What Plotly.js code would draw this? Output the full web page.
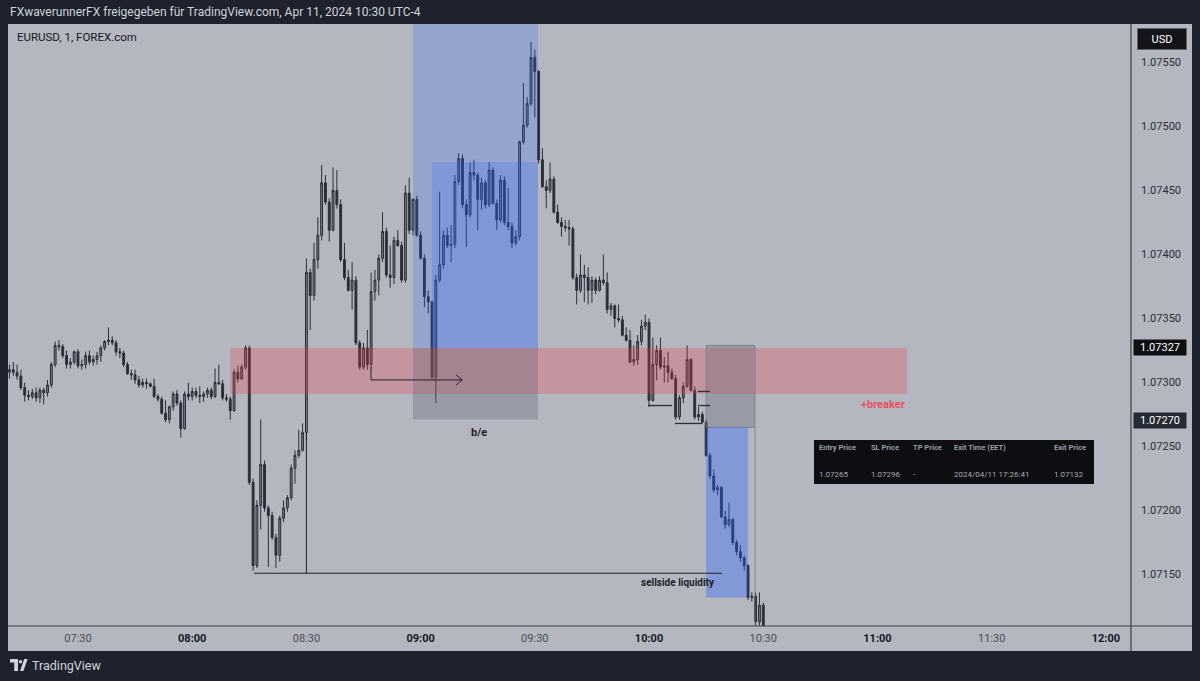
<!DOCTYPE html>
<html><head><meta charset="utf-8">
<script src="https://cdn.plot.ly/plotly-3.0.1.min.js"></script>
<style>html,body{margin:0;padding:0;background:#1e222d;overflow:hidden}#chart{width:1200px;height:681px}</style>
</head><body><div id="chart"></div>
<script>
// ---------- DATA ----------
const times = [
"07:12","07:13","07:14","07:15","07:16","07:17","07:18","07:19","07:20","07:21","07:22","07:23","07:24","07:25","07:26","07:27","07:28","07:29",
"07:30","07:31","07:32","07:33","07:34","07:35","07:36","07:37","07:38","07:39","07:40","07:41","07:42","07:43","07:44","07:45","07:46","07:47","07:48","07:49","07:50","07:51","07:52","07:53","07:54","07:55","07:56","07:57","07:58","07:59",
"08:00","08:01","08:02","08:03","08:04","08:05","08:06","08:07","08:08","08:09","08:10","08:11","08:12","08:13","08:14","08:15","08:16","08:17","08:18","08:19","08:20","08:21","08:22","08:23","08:24","08:25","08:26","08:27","08:28","08:29",
"08:30","08:31","08:32","08:33","08:34","08:35","08:36","08:37","08:38","08:39","08:40","08:41","08:42","08:43","08:44","08:45","08:46","08:47","08:48","08:49","08:50","08:51","08:52","08:53","08:54","08:55","08:56","08:57","08:58","08:59",
"09:00","09:01","09:02","09:03","09:04","09:05","09:06","09:07","09:08","09:09","09:10","09:11","09:12","09:13","09:14","09:15","09:16","09:17","09:18","09:19","09:20","09:21","09:22","09:23","09:24","09:25","09:26","09:27","09:28","09:29",
"09:30","09:31","09:32","09:33","09:34","09:35","09:36","09:37","09:38","09:39","09:40","09:41","09:42","09:43","09:44","09:45","09:46","09:47","09:48","09:49","09:50","09:51","09:52","09:53","09:54","09:55","09:56","09:57","09:58","09:59",
"10:00","10:01","10:02","10:03","10:04","10:05","10:06","10:07","10:08","10:09","10:10","10:11","10:12","10:13","10:14","10:15","10:16","10:17","10:18","10:19","10:20","10:21","10:22","10:23","10:24","10:25","10:26","10:27","10:28","10:29","10:30"
];
const open = [
1.07308,1.07310,1.07308,1.07305,1.07296,1.07290,1.07289,1.07292,1.07288,1.07294,
1.07292,1.07298,1.07314,1.07329,1.07328,1.07321,1.07314,1.07316,1.07324,1.07313,
1.07314,1.07321,1.07316,1.07318,1.07321,1.07327,1.07332,1.07333,1.07331,1.07324,
1.07323,1.07314,1.07307,1.07306,1.07302,1.07298,1.07300,1.07299,1.07297,1.07289,
1.07287,1.07276,1.07271,1.07281,1.07291,1.07284,1.07264,1.07291,1.07289,1.07293,
1.07290,1.07289,1.07291,1.07294,1.07289,1.07300,1.07299,1.07288,1.07287,1.07278,
1.07308,1.07303,1.07312,1.07327,1.07222,1.07157,1.07204,1.07236,1.07202,1.07196,
1.07179,1.07165,1.07194,1.07202,1.07210,1.07233,1.07243,1.07247,1.07261,1.07386,
1.07368,1.07396,1.07415,1.07456,1.07441,1.07419,1.07450,1.07439,1.07396,1.07382,
1.07372,1.07380,1.07331,1.07312,1.07327,1.07314,1.07371,1.07380,1.07397,1.07418,
1.07384,1.07382,1.07411,1.07407,1.07380,1.07448,1.07419,1.07443,1.07415,1.07397,
1.07367,1.07363,1.07304,1.07380,1.07392,1.07415,1.07407,1.07408,1.07457,1.07475,
1.07439,1.07431,1.07464,1.07462,1.07443,1.07456,1.07439,1.07466,1.07440,1.07427,
1.07458,1.07425,1.07422,1.07409,1.07414,1.07488,1.07501,1.07518,1.07554,1.07543,
1.07474,1.07453,1.07450,1.07459,1.07433,1.07425,1.07422,1.07421,1.07420,1.07382,
1.07372,1.07384,1.07382,1.07372,1.07380,1.07372,1.07380,1.07378,1.07357,1.07360,
1.07350,1.07349,1.07337,1.07333,1.07316,1.07318,1.07332,1.07344,1.07347,1.07286,
1.07314,1.07325,1.07312,1.07313,1.07308,1.07303,1.07273,1.07288,1.07297,1.07318,
1.07294,1.07273,1.07275,1.07269,1.07243,1.07227,1.07216,1.07218,1.07195,1.07189,
1.07193,1.07175,1.07168,1.07163,1.07157,1.07132,1.07133,1.07113,1.07126
];
const high = [
1.07314,1.07316,1.07314,1.07310,1.07300,1.07294,1.07295,1.07296,1.07296,1.07296,
1.07302,1.07316,1.07332,1.07333,1.07330,1.07325,1.07319,1.07325,1.07326,1.07318,
1.07324,1.07325,1.07321,1.07324,1.07329,1.07333,1.07343,1.07336,1.07333,1.07327,
1.07325,1.07316,1.07310,1.07310,1.07305,1.07303,1.07303,1.07300,1.07303,1.07291,
1.07289,1.07286,1.07282,1.07293,1.07294,1.07286,1.07293,1.07300,1.07296,1.07296,
1.07297,1.07293,1.07296,1.07296,1.07311,1.07314,1.07302,1.07291,1.07289,1.07310,
1.07313,1.07314,1.07329,1.07329,1.07225,1.07208,1.07271,1.07239,1.07204,1.07199,
1.07182,1.07196,1.07208,1.07212,1.07236,1.07247,1.07263,1.07268,1.07397,1.07389,
1.07409,1.07429,1.07470,1.07462,1.07444,1.07468,1.07466,1.07443,1.07409,1.07388,
1.07394,1.07383,1.07333,1.07331,1.07341,1.07386,1.07388,1.07400,1.07433,1.07421,
1.07407,1.07414,1.07419,1.07410,1.07454,1.07460,1.07444,1.07446,1.07418,1.07400,
1.07372,1.07364,1.07384,1.07449,1.07419,1.07421,1.07423,1.07462,1.07479,1.07478,
1.07443,1.07472,1.07474,1.07464,1.07460,1.07458,1.07472,1.07468,1.07443,1.07462,
1.07461,1.07452,1.07425,1.07419,1.07489,1.07534,1.07523,1.07566,1.07560,1.07544,
1.07483,1.07458,1.07472,1.07461,1.07439,1.07429,1.07427,1.07427,1.07422,1.07385,
1.07400,1.07392,1.07390,1.07383,1.07382,1.07383,1.07400,1.07386,1.07362,1.07361,
1.07361,1.07352,1.07343,1.07341,1.07329,1.07337,1.07349,1.07353,1.07350,1.07335,
1.07329,1.07335,1.07320,1.07324,1.07311,1.07306,1.07290,1.07300,1.07329,1.07319,
1.07297,1.07281,1.07277,1.07271,1.07245,1.07232,1.07220,1.07219,1.07200,1.07206,
1.07194,1.07177,1.07173,1.07165,1.07158,1.07136,1.07136,1.07136,1.07128
];
const low = [
1.07303,1.07305,1.07302,1.07294,1.07285,1.07286,1.07287,1.07285,1.07284,1.07283,
1.07289,1.07296,1.07312,1.07325,1.07319,1.07311,1.07311,1.07314,1.07311,1.07310,
1.07311,1.07314,1.07313,1.07314,1.07316,1.07325,1.07329,1.07329,1.07321,1.07319,
1.07312,1.07306,1.07302,1.07299,1.07296,1.07296,1.07295,1.07296,1.07288,1.07285,
1.07275,1.07269,1.07268,1.07278,1.07282,1.07257,1.07263,1.07286,1.07286,1.07288,
1.07284,1.07285,1.07288,1.07287,1.07288,1.07298,1.07286,1.07285,1.07271,1.07277,
1.07300,1.07302,1.07310,1.07220,1.07153,1.07155,1.07185,1.07199,1.07156,1.07177,
1.07155,1.07160,1.07191,1.07199,1.07208,1.07221,1.07241,1.07246,1.07255,1.07341,
1.07364,1.07389,1.07411,1.07439,1.07410,1.07418,1.07436,1.07394,1.07380,1.07371,
1.07357,1.07329,1.07310,1.07310,1.07310,1.07311,1.07364,1.07368,1.07394,1.07382,
1.07374,1.07377,1.07406,1.07378,1.07378,1.07416,1.07415,1.07414,1.07396,1.07359,
1.07354,1.07302,1.07284,1.07378,1.07389,1.07405,1.07394,1.07405,1.07454,1.07436,
1.07406,1.07429,1.07458,1.07419,1.07435,1.07436,1.07437,1.07439,1.07419,1.07425,
1.07423,1.07419,1.07405,1.07407,1.07411,1.07486,1.07499,1.07516,1.07507,1.07471,
1.07452,1.07436,1.07448,1.07432,1.07424,1.07414,1.07418,1.07407,1.07380,1.07361,
1.07370,1.07363,1.07361,1.07362,1.07369,1.07371,1.07376,1.07354,1.07352,1.07343,
1.07347,1.07336,1.07332,1.07315,1.07313,1.07314,1.07329,1.07341,1.07281,1.07285,
1.07302,1.07310,1.07300,1.07300,1.07302,1.07271,1.07271,1.07284,1.07296,1.07293,
1.07271,1.07270,1.07268,1.07242,1.07225,1.07214,1.07212,1.07194,1.07186,1.07187,
1.07173,1.07165,1.07160,1.07153,1.07130,1.07129,1.07110,1.07110,1.07107
];
const close = [
1.07310,1.07308,1.07305,1.07296,1.07290,1.07289,1.07292,1.07288,1.07294,1.07292,
1.07298,1.07314,1.07329,1.07328,1.07321,1.07314,1.07316,1.07324,1.07313,1.07314,
1.07321,1.07316,1.07318,1.07321,1.07327,1.07332,1.07333,1.07331,1.07324,1.07323,
1.07314,1.07307,1.07306,1.07302,1.07298,1.07300,1.07299,1.07297,1.07289,1.07287,
1.07276,1.07271,1.07281,1.07291,1.07284,1.07264,1.07291,1.07289,1.07293,1.07290,
1.07289,1.07291,1.07294,1.07289,1.07300,1.07299,1.07288,1.07287,1.07278,1.07308,
1.07303,1.07312,1.07327,1.07222,1.07157,1.07204,1.07236,1.07202,1.07196,1.07179,
1.07165,1.07194,1.07202,1.07210,1.07233,1.07243,1.07247,1.07261,1.07386,1.07368,
1.07396,1.07415,1.07456,1.07441,1.07419,1.07450,1.07439,1.07396,1.07382,1.07372,
1.07380,1.07331,1.07312,1.07327,1.07314,1.07371,1.07380,1.07397,1.07418,1.07384,
1.07382,1.07411,1.07407,1.07380,1.07448,1.07419,1.07443,1.07415,1.07397,1.07367,
1.07363,1.07304,1.07380,1.07392,1.07415,1.07407,1.07408,1.07457,1.07475,1.07439,
1.07431,1.07464,1.07462,1.07443,1.07456,1.07439,1.07466,1.07440,1.07427,1.07458,
1.07425,1.07422,1.07409,1.07414,1.07488,1.07501,1.07518,1.07554,1.07543,1.07474,
1.07453,1.07450,1.07459,1.07433,1.07425,1.07422,1.07421,1.07420,1.07382,1.07372,
1.07384,1.07382,1.07372,1.07380,1.07372,1.07380,1.07378,1.07357,1.07360,1.07350,
1.07349,1.07337,1.07333,1.07316,1.07318,1.07332,1.07344,1.07347,1.07286,1.07314,
1.07325,1.07312,1.07313,1.07308,1.07303,1.07273,1.07288,1.07297,1.07318,1.07294,
1.07273,1.07275,1.07269,1.07243,1.07227,1.07216,1.07218,1.07195,1.07189,1.07193,
1.07175,1.07168,1.07163,1.07157,1.07132,1.07133,1.07113,1.07126,1.07110
];
const xTickTimes = ["07:30","08:00","08:30","09:00","09:30","10:00","10:30","11:00","11:30","12:00"];
const xTickBold  = [false,true,false,true,false,true,false,true,false,true];
const yTickVals  = [1.0715,1.0720,1.0725,1.0730,1.0735,1.0740,1.0745,1.0750,1.0755];
const priceMarks = [1.07327,1.07270];
const tableHeaders = ["Entry Price","SL Price","TP Price","Exit Time (EET)","Exit Price"];
const tableValues  = ["1.07265","1.07296","-","2024/04/11 17:26:41","1.07132"];

// drawing levels (time, price)
const breaker   = {t0:"08:10:00", t1:"11:07:46", lo:1.07291, hi:1.07327};
const trade1    = {t0:"08:58:00", t2:"09:03:00", t1:"09:30:50", entry:1.07327, stop:1.07271, tgt1:1.07472, tgtTop:1.0762};
const trade2    = {t0:"10:15:00", t1:"10:26:00", t3:"10:27:50", entry:1.07265, stop:1.07329, exit:1.07132};
const arrowLine = {t0:"08:46:58", t1:"09:10:54", p:1.07302, pTop:1.07312};
const ssl       = {t0:"08:16:14", t1:"10:19:10", p:1.07151, tV:"08:30:00", pV:1.07261};
const rays = [
  {t0:"09:59:44", t1:"10:06:02", p:1.07282},
  {t0:"10:06:49", t1:"10:13:54", p:1.07268},
  {t0:"10:12:52", t1:"10:16:00", p:1.07293},
  {t0:"10:12:52", t1:"10:16:00", p:1.07282}
];
const labels = {
  be:{t:"09:15:20", p:1.07261, text:"b/e"},
  ssl:{t:"10:07:36", p:1.07144, text:"sellside liquidity"},
  brk:{t:"11:01:26", p:1.07283, text:"+breaker"}
};

// ---------- LAYOUT HELPERS ----------
const W=1200, H=681, ML=8, MR=69, MT=24, MB=55;
const PW=W-ML-MR, PH=H-MT-MB;
const px = p => (p-ML)/PW;
const py = p => (H-MB-p)/PH;
const DAY="2024-04-11 ";
const T = t => DAY + (t.length===5 ? t+":00" : t);
const FONT = "Roboto, 'Noto Sans', sans-serif";
const DARK = "#1e222d";
const GRAY = "#b4b7c0";

const trace = {
  type:"candlestick", x: times.map(T), open, high, low, close,
  increasing:{line:{color:"#2b2e38",width:1}, fillcolor:"#777a84"},
  decreasing:{line:{color:"#2b2e38",width:1}, fillcolor:"#2b2e38"},
  whiskerwidth:0, hoverinfo:"skip", showlegend:false
};

const lineC = "#1f222b";
const shapes = [
  {type:"rect",xref:"paper",yref:"paper",x0:0,x1:px(1192),y0:py(651),y1:1,fillcolor:GRAY,line:{width:0},layer:"below"},
  {type:"rect",xref:"x",yref:"y",x0:T(breaker.t0),x1:T(breaker.t1),y0:breaker.lo,y1:breaker.hi,fillcolor:"rgba(242,54,69,0.27)",line:{width:0},layer:"above"},
  {type:"rect",xref:"x",yref:"y",x0:T(trade1.t0),x1:T(trade1.t1),y0:trade1.entry,y1:trade1.tgtTop,fillcolor:"rgba(41,98,255,0.22)",line:{width:0},layer:"above"},
  {type:"rect",xref:"x",yref:"y",x0:T(trade1.t2),x1:T(trade1.t1),y0:trade1.entry,y1:trade1.tgt1,fillcolor:"rgba(41,98,255,0.2)",line:{width:0},layer:"above"},
  {type:"rect",xref:"x",yref:"y",x0:T(trade1.t0),x1:T(trade1.t1),y0:trade1.stop,y1:trade1.entry,fillcolor:"rgba(100,104,116,0.34)",line:{width:0},layer:"above"},
  {type:"rect",xref:"x",yref:"y",x0:T(trade2.t0),x1:T(trade2.t3),y0:trade2.entry,y1:trade2.stop,fillcolor:"rgba(100,104,116,0.34)",line:{color:"rgba(120,123,134,0.8)",width:1},layer:"above"},
  {type:"rect",xref:"x",yref:"y",x0:T(trade2.t0),x1:T(trade2.t1),y0:trade2.exit,y1:trade2.entry,fillcolor:"rgba(41,98,255,0.36)",line:{width:0},layer:"above"},
  {type:"line",xref:"x",yref:"y",x0:T(trade2.t3),x1:T(trade2.t3),y0:trade2.entry,y1:1.0708,line:{color:"rgba(120,123,134,0.8)",width:1},layer:"above"},
  {type:"line",xref:"x",yref:"y",x0:T(arrowLine.t0),x1:T(arrowLine.t0),y0:arrowLine.pTop,y1:arrowLine.p,line:{color:lineC,width:1},layer:"above"},
  {type:"line",xref:"x",yref:"y",x0:T(arrowLine.t0),x1:T(arrowLine.t1),y0:arrowLine.p,y1:arrowLine.p,line:{color:lineC,width:1},layer:"above"},
  {type:"path",xref:"x",yref:"y",xsizemode:"pixel",ysizemode:"pixel",xanchor:T(arrowLine.t1),yanchor:arrowLine.p,path:"M-6,5L0,0L-6,-5",line:{color:lineC,width:1},layer:"above"},
  {type:"line",xref:"x",yref:"y",x0:T(ssl.t0),x1:T(ssl.t1),y0:ssl.p,y1:ssl.p,line:{color:lineC,width:1},layer:"above"},
  {type:"line",xref:"x",yref:"y",x0:T(ssl.tV),x1:T(ssl.tV),y0:ssl.p,y1:ssl.pV,line:{color:lineC,width:1},layer:"above"},
  {type:"line",xref:"paper",yref:"paper",x0:1,x1:1,y0:py(651),y1:1,line:{color:"#3a3e48",width:1.2},layer:"above"},
  {type:"line",xref:"paper",yref:"paper",x0:0,x1:px(1192),y0:0,y1:0,line:{color:"#3a3e48",width:1.2},layer:"above"},
  {type:"rect",xref:"paper",yref:"paper",x0:px(814),x1:px(1094),y0:py(484),y1:py(440),fillcolor:"#0d0e11",line:{width:0},layer:"above"},
  {type:"path",xref:"paper",yref:"paper",path:`M${px(10)},${py(659)}L${px(18)},${py(659)}L${px(18)},${py(671)}L${px(14.2)},${py(671)}L${px(14.2)},${py(662.5)}L${px(10)},${py(662.5)}Z`,fillcolor:"#d1d4dc",line:{width:0},layer:"above"},
  {type:"circle",xref:"paper",yref:"paper",x0:px(18.8),x1:px(22.2),y0:py(663.4),y1:py(660),fillcolor:"#d1d4dc",line:{width:0},layer:"above"},
  {type:"path",xref:"paper",yref:"paper",path:`M${px(20)},${py(671)}L${px(24.2)},${py(659)}L${px(27.6)},${py(659)}L${px(23.4)},${py(671)}Z`,fillcolor:"#d1d4dc",line:{width:0},layer:"above"}
];
rays.forEach(r => shapes.push({type:"line",xref:"x",yref:"y",x0:T(r.t0),x1:T(r.t1),y0:r.p,y1:r.p,line:{color:"#2a2d36",width:1.3},layer:"above"}));

const annotations = [
  {xref:"paper",yref:"paper",x:px(8),y:py(12),xanchor:"left",yanchor:"middle",showarrow:false,
   text:"FXwaverunnerFX freigegeben für TradingView.com, Apr 11, 2024 10:30 UTC-4",font:{family:FONT,size:12,color:"#d1d4dc"}},
  {xref:"paper",yref:"paper",x:px(15),y:py(37),xanchor:"left",yanchor:"middle",showarrow:false,
   text:"EURUSD, 1, FOREX.com",font:{family:FONT,size:11.5,color:"#131722"}},
  {xref:"paper",yref:"paper",x:px(30),y:py(665),xanchor:"left",yanchor:"middle",showarrow:false,
   text:"TradingView",font:{family:FONT,size:12.5,color:"#d1d4dc"}},
  {xref:"paper",yref:"paper",x:px(1162),y:py(39),xanchor:"center",yanchor:"middle",showarrow:false,
   text:"USD",font:{family:FONT,size:11,color:"#ffffff"},bgcolor:"#131419",bordercolor:"#5d606b",borderwidth:1,width:44,height:16,borderpad:2},
  {xref:"x",yref:"y",x:T(labels.be.t),y:labels.be.p,showarrow:false,xanchor:"center",yanchor:"middle",
   text:"<b>"+labels.be.text+"</b>",font:{family:FONT,size:11,color:"#1b1e26"}},
  {xref:"x",yref:"y",x:T(labels.ssl.t),y:labels.ssl.p,showarrow:false,xanchor:"center",yanchor:"middle",
   text:"<b>"+labels.ssl.text+"</b>",font:{family:FONT,size:10,color:"#1b1e26"}},
  {xref:"x",yref:"y",x:T(labels.brk.t),y:labels.brk.p,showarrow:false,xanchor:"center",yanchor:"middle",
   text:"<b>"+labels.brk.text+"</b>",font:{family:FONT,size:11,color:"#e8505f"}}
];
const markBg = ["#0e0f13","#262a34"];
priceMarks.forEach((p,i) => annotations.push({xref:"paper",yref:"y",x:px(1160),y:p,xanchor:"center",yanchor:"middle",showarrow:false,
  text:p.toFixed(5),font:{family:FONT,size:11,color:"#ffffff"},bgcolor:markBg[i],width:50,height:13,borderpad:1}));
const colX = [817,869,911,952,1052];
tableHeaders.forEach((h,i) => annotations.push({xref:"paper",yref:"paper",x:px(colX[i]),y:py(448),xanchor:"left",yanchor:"middle",showarrow:false,
  text:"<b>"+h+"</b>",font:{family:FONT,size:7.5,color:"#9a9da6"}}));
tableValues.forEach((v,i) => annotations.push({xref:"paper",yref:"paper",x:px(colX[i]),y:py(474),xanchor:"left",yanchor:"middle",showarrow:false,
  text:v,font:{family:FONT,size:8,color:"#a8abb4"}}));

const layout = {
  width:W, height:H, margin:{l:ML,r:MR,t:MT,b:MB},
  paper_bgcolor:DARK, plot_bgcolor:GRAY, showlegend:false, hovermode:false,
  xaxis:{type:"date", range:[T("07:11:37"),T("12:06:36")], rangeslider:{visible:false},
    showgrid:false, zeroline:false, showline:false, ticks:"",
    tickvals:xTickTimes.map(T),
    ticktext:xTickTimes.map((t,i)=> xTickBold[i] ? "<b>"+t+"</b>" : "<span style='color:#4a4d57'>"+t+"</span>"),
    tickfont:{family:FONT,size:11,color:"#131722"}, ticklabelstandoff:4, fixedrange:true},
  yaxis:{side:"right", range:[1.0710977,1.0758008], showgrid:false, zeroline:false, showline:false, ticks:"",
    tickvals:yTickVals, ticktext:yTickVals.map(v=>v.toFixed(5)),
    tickfont:{family:FONT,size:11,color:"#2a2e39"}, ticklabelstandoff:9, fixedrange:true},
  shapes, annotations
};
Plotly.newPlot("chart",[trace],layout,{staticPlot:true,displayModeBar:false});
</script>
</body></html>
